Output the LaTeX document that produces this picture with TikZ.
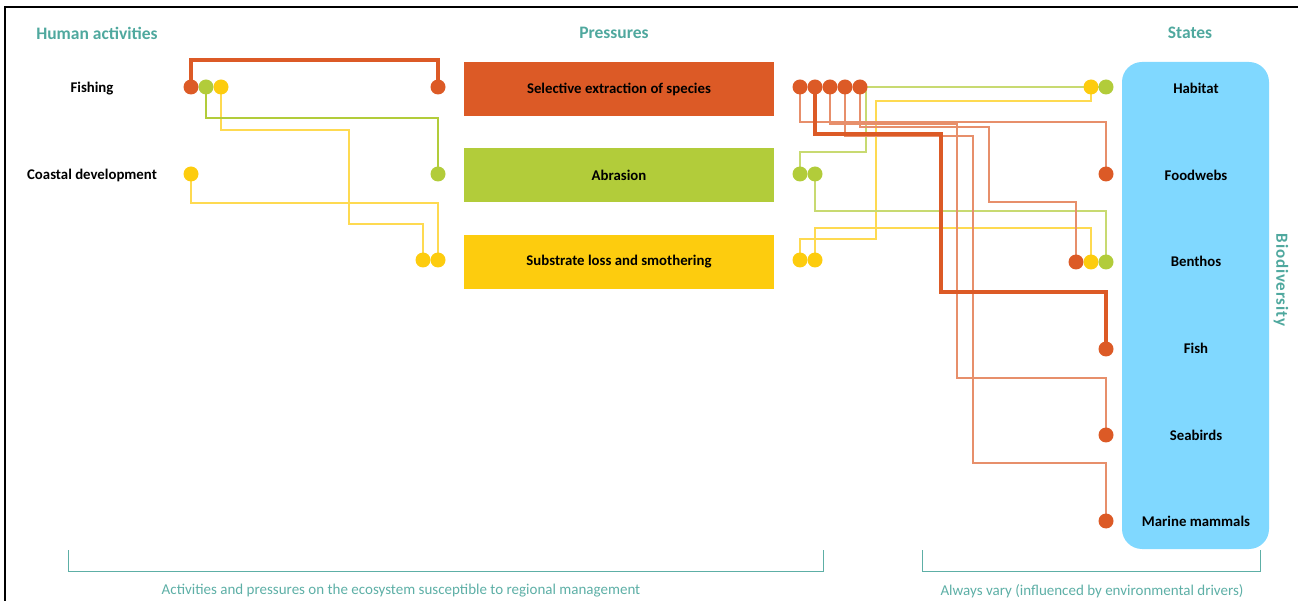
\documentclass[tikz,border=0pt]{standalone}
\usepackage{fontspec}
\setmainfont{Carlito}
\usetikzlibrary{backgrounds}
\definecolor{orng}{HTML}{DC5A26}
\definecolor{grn}{HTML}{B2CC3A}
\definecolor{ylw}{HTML}{FDCC0E}
\definecolor{blu}{HTML}{80D8FF}
\definecolor{tealh}{HTML}{4FA89E}
\definecolor{tealb}{HTML}{5DAFA6}
\begin{document}
\begin{tikzpicture}[x=1pt,y=-1pt,
  dot/.style={circle,inner sep=0pt,minimum size=15pt},
  od/.style={dot,fill=orng}, gd/.style={dot,fill=grn}, yd/.style={dot,fill=ylw},
  hdr/.style={font=\fontsize{17.5}{20}\selectfont\bfseries,text=tealh},
  lbl/.style={font=\fontsize{14.8}{17}\selectfont\bfseries,text=black},
  pbox/.style={lbl,minimum width=310pt,minimum height=54pt,inner sep=0pt},
  btxt/.style={font=\fontsize{15}{18}\selectfont,text=tealb},
  brk/.style={draw=tealb,line width=1pt},
  thk/.style={draw=orng,line width=4pt},
  thino/.style={draw=orng!68,line width=1.3pt},
  thing/.style={draw=grn!72,line width=1.4pt},
  thiny/.style={draw=ylw!72,line width=1.4pt},
]
\useasboundingbox (0,0) rectangle (1302,601);
\draw[line width=1.5pt] (5,601) -- (5,7) -- (1298,7);

% headers
\node[hdr] (h1) at (97,33) {Human activities};
\node[hdr] (h2) at (614,33) {Pressures};
\node[hdr] (h3) at (1190,33) {States};

% activities
\node[lbl] (fish) at (92,88.5) {Fishing};
\node[lbl] (coast) at (92,175.5) {Coastal development};

% pressures
\node[pbox,fill=orng] (p1) at (619,89) {Selective extraction of species};
\node[pbox,fill=grn] (p2) at (619,175.5) {Abrasion};
\node[pbox,fill=ylw] (p3) at (619,262) {Substrate loss and smothering};

% states
\node[fill=blu,rounded corners=20pt,minimum width=147pt,minimum height=487pt,inner sep=0pt] (bio) at (1195.5,305.5) {};
\node[lbl] (s1) at (1196,88.5) {Habitat};
\node[lbl] (s2) at (1196,175.5) {Foodwebs};
\node[lbl] (s3) at (1196,261.5) {Benthos};
\node[lbl] (s4) at (1196,348.5) {Fish};
\node[lbl] (s5) at (1196,435.5) {Seabirds};
\node[lbl] (s6) at (1196,521.5) {Marine mammals};
\node[hdr,font=\fontsize{17}{20}\selectfont\bfseries\addfontfeature{LetterSpace=5},rotate=-90] (bd) at (1281,280) {Biodiversity};

% dots left
\node[od] (fo) at (191,87) {};
\node[gd] (fg) at (206,87) {};
\node[yd] (fy) at (221,87) {};
\node[yd] (cy) at (191,174) {};
\node[od] (po) at (438,87) {};
\node[gd] (pg) at (438,174) {};
\node[yd] (py1) at (423,260) {};
\node[yd] (py2) at (438,260) {};

% dots right of pressures
\node[od] (so1) at (800,87) {};
\node[od] (so2) at (815,87) {};
\node[od] (so3) at (830,87) {};
\node[od] (so4) at (845,87) {};
\node[od] (so5) at (860,87) {};
\node[gd] (sg1) at (800,174) {};
\node[gd] (sg2) at (815,174) {};
\node[yd] (sy1) at (800,260) {};
\node[yd] (sy2) at (815,260) {};

% state dots
\node[yd] (hy) at (1091,87) {};
\node[gd] (hg) at (1106,87) {};
\node[od] (fw) at (1106,174) {};
\node[od] (bo) at (1076,262) {};
\node[yd] (by) at (1091,262) {};
\node[gd] (bg) at (1106,262) {};
\node[od] (fi) at (1106,349) {};
\node[od] (sb) at (1106,435) {};
\node[od] (mm) at (1106,521) {};

\begin{pgfonlayer}{background}
  % left connectors
  \draw[thiny] (fy.center) |- (349,130) -- (349,224) -| (py1.center);
  \draw[thiny] (cy.center) -- ++(0,29) -| (py2.center);
  \draw[draw=grn,line width=2pt] (fg.center) -- ++(0,31) -| (pg.center);
  \draw[thk] (fo.center) -- ++(0,-27) -| (po.center);
  % right connectors
  \draw[thing] (sg1.center) |- (866,152) |- (hg.center);
  \draw[thiny] (sy1.center) |- (876,239) |- (1091,101) -- (hy.center);
  \draw[thing] (sg2.center) -- ++(0,37) -| (bg.center);
  \draw[thiny] (sy2.center) -- ++(0,-32) -| (by.center);
  \draw[thino] (so1.center) -- ++(0,35) -| (fw.center);
  \draw[thino] (so3.center) |- (957,124) -- (957,378) -| (sb.center);
  \draw[thino] (so4.center) |- (973,136) -- (973,463) -| (mm.center);
  \draw[thino] (so5.center) |- (989,127) -- (989,202) -| (bo.center);
  \draw[thk] (so2.center) |- (941,134) -- (941,292) -| (fi.center);
\end{pgfonlayer}

% bottom brackets
\draw[brk] (68,550) -- (68,571) -- (823,571) -- (823,550);
\draw[brk] (922,550) -- (922,571) -- (1260,571) -- (1260,550);
\node[btxt] (b1) at (401,591) {Activities and pressures on the ecosystem susceptible to regional management};
\node[btxt] (b2) at (1092,591) {Always vary (influenced by environmental drivers)};
\end{tikzpicture}
\end{document}
